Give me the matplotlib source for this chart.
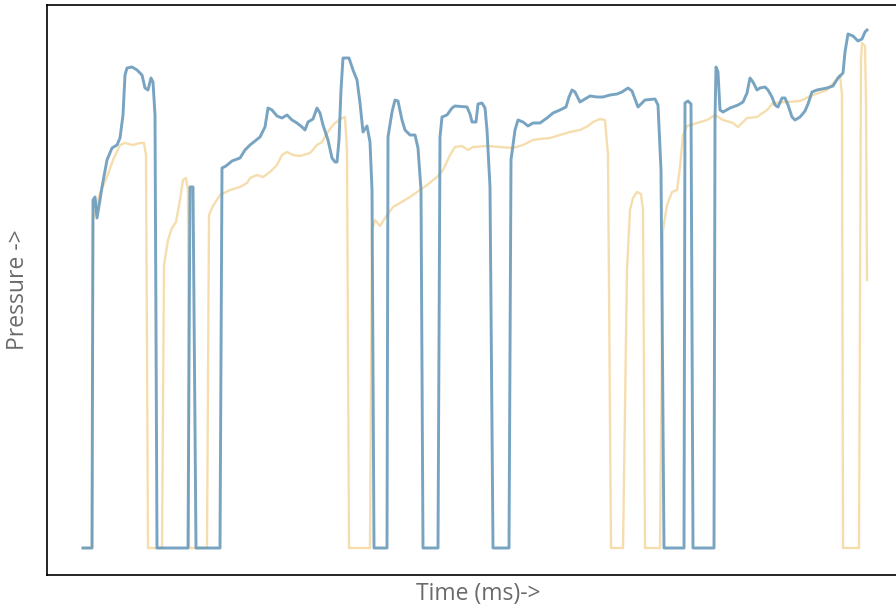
import matplotlib
matplotlib.use("Agg")
import matplotlib.pyplot as plt

# time (ms) and pressure (arbitrary units) for the two traces
blue_time = [0, 9, 10, 12, 14, 17, 19, 24, 29, 34, 37, 40, 42, 44, 49, 54, 59, 62, 65, 68, 70, 72, 74,
             105, 107, 110, 113, 137, 139, 143, 149, 157, 162, 167, 172, 177, 182, 185, 189, 194, 199,
             204, 209, 214, 219, 222, 225, 230, 234, 237, 240, 245, 249, 252, 254, 256, 258, 260, 266,
             270, 274, 277, 280, 284, 287, 289, 291, 304, 305, 309, 312, 315, 319, 322, 327, 332, 335,
             338, 340, 355, 357, 359, 364, 369, 372, 384, 387, 389, 393, 395, 399, 402, 404, 407, 410,
             426, 428, 432, 435, 440, 445, 450, 457, 464, 470, 477, 483, 486, 489, 492, 497, 502, 507,
             514, 520, 527, 534, 539, 545, 549, 552, 555, 559, 562, 572, 575, 578, 581, 601, 602, 605,
             608, 610, 631, 632, 633, 635, 637, 640, 647, 655, 660, 664, 667, 670, 674, 677, 682, 685,
             689, 692, 695, 699, 702, 705, 709, 712, 717, 722, 725, 729, 734, 744, 750, 755, 760, 762,
             765, 770, 775, 779, 782, 784]
blue_pressure = [0, 0, 348, 351, 330, 348, 361, 388, 400, 403, 410, 433, 473, 480, 481, 478, 473, 460,
                 458, 470, 466, 433, 0,
                 0, 361, 361, 0, 0, 380, 382, 387, 390, 398, 403, 407, 411, 421, 440, 438, 432, 430,
                 433, 428, 425, 421, 418, 426, 429, 440, 435, 423, 408, 390, 386, 386, 408, 458, 490, 490,
                 478, 468, 445, 416, 422, 406, 358, 0, 0, 411, 436, 448, 447, 428, 418, 413, 413, 400,
                 358, 0, 0, 411, 431, 433, 440, 442, 441, 434, 426, 426, 444, 445, 440, 418, 361, 0,
                 0, 388, 418, 428, 426, 422, 425, 425, 430, 435, 438, 441, 451, 458, 456, 446, 449, 452,
                 451, 451, 453, 454, 456, 460, 457, 449, 441, 445, 448, 449, 443, 378, 0, 0, 445, 447,
                 444, 0, 0, 428, 481, 476, 438, 436, 440, 443, 446, 455, 470, 466, 458, 460, 461, 458,
                 451, 443, 441, 450, 450, 443, 431, 428, 431, 437, 444, 456, 458, 460, 462, 470, 475, 496,
                 514, 512, 507, 509, 516, 518]

orange_time = [0, 9, 10, 17, 24, 30, 37, 42, 50, 57, 61, 63, 65, 79, 81, 85, 89, 93, 97, 100, 103, 105,
               106, 124, 126, 130, 137, 147, 157, 164, 167, 174, 180, 187, 194, 199, 204, 210, 217, 227,
               234, 239, 244, 250, 257, 262, 264, 266, 287, 289, 292, 297, 304, 310, 317, 327, 334, 344,
               354, 360, 367, 372, 379, 385, 390, 404, 417, 430, 440, 450, 457, 467, 477, 487, 497, 505,
               510, 517, 522, 525, 528, 540, 544, 547, 550, 554, 558, 560, 562, 577, 580, 584, 589, 594,
               597, 600, 604, 614, 624, 632, 640, 650, 655, 664, 674, 684, 690, 704, 717, 730, 744, 754,
               757, 759, 760, 776, 778, 779, 782, 783, 784]
orange_pressure = [0, 0, 328, 355, 371, 388, 403, 405, 403, 405, 405, 393, 0, 0, 283, 308, 320, 326, 348,
                   368, 370, 358, 0, 0, 333, 342, 353, 358, 361, 365, 370, 373, 371, 376, 383, 393, 396,
                   393, 392, 395, 403, 406, 415, 423, 429, 431, 398, 0, 0, 318, 328, 322, 333, 341, 345,
                   351, 356, 363, 371, 378, 393, 401, 402, 398, 401, 402, 401, 400, 403, 408, 409, 410,
                   413, 416, 418, 422, 426, 429, 428, 393, 0, 0, 278, 338, 350, 356, 354, 338, 0, 0, 318,
                   343, 356, 358, 381, 413, 422, 425, 428, 433, 428, 425, 421, 430, 431, 438, 445, 446,
                   447, 453, 458, 469, 473, 453, 0, 0, 488, 505, 502, 448, 268]

x_label = "Time (ms)->"
y_label = "Pressure ->"

fig = plt.figure(figsize=(8.96, 6.08), dpi=100)
ax = fig.add_axes([47 / 896, 33 / 608, 862 / 896, 570 / 608])

ax.plot(orange_time, orange_pressure, color="#f4d8a0", lw=1.7, alpha=0.85, zorder=2)
ax.plot(blue_time, blue_pressure, color="#6598ba", lw=2.1, alpha=0.88, zorder=3)

ax.set_xlim(-36, 826)
ax.set_ylim(-27, 543)
ax.set_xticks([])
ax.set_yticks([])
for s in ax.spines.values():
    s.set_color("black")
    s.set_linewidth(1.2)

font = dict(family=["Open Sans", "DejaVu Sans"], size=16.5, color="#6a6a6a")
ax.set_xlabel(x_label, **font)
ax.set_ylabel(y_label, **font)
ax.xaxis.set_label_coords(0.5, -0.012)
ax.yaxis.set_label_coords(-0.02, 0.5)

fig.savefig("out.png", dpi=100)
